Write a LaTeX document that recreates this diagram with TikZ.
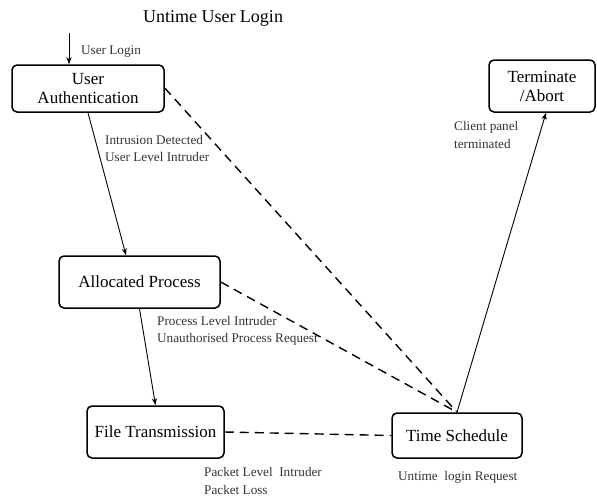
\documentclass[tikz,border=0pt]{standalone}
\usepackage{fontspec}
\setmainfont{Liberation Serif}
\usetikzlibrary{arrows.meta}
\begin{document}
\begin{tikzpicture}[x=1pt,y=-1pt,
  box/.style={draw, line width=1.5pt, rounded corners=5pt, inner sep=0pt, align=center, font=\fontsize{17}{19}\selectfont},
  lbl/.style={anchor=west, inner sep=0pt, align=left, font=\fontsize{13.2}{17.5}\selectfont, text=black!80},
  arr/.style={line width=0.9pt, -{Stealth[length=7pt,width=5pt,inset=2pt]}},
  dsh/.style={line width=1.4pt, dash pattern=on 9pt off 6pt}]
\useasboundingbox (0,0) rectangle (597,498);
\node[font=\fontsize{18}{20}\selectfont] (title) at (213,18) {Untime User Login};
\node[box, minimum width=152pt, minimum height=47pt] (ua) at (88,88.5) {User\\Authentication};
\node[box, minimum width=161pt, minimum height=52pt] (ap) at (139.5,282) {Allocated Process};
\node[box, minimum width=137pt, minimum height=52pt] (ft) at (155.5,432) {File Transmission};
\node[box, minimum width=130pt, minimum height=45pt] (ts) at (457,435.5) {Time Schedule};
\node[box, minimum width=106pt, minimum height=52pt] (ta) at (542,86) {Terminate\\/Abort};
\coordinate (start) at (69,33);
\draw[arr] (start) -- ([xshift=-19pt]ua.north);
\node[lbl] (l1) at (81,52) {User Login};
\draw[arr] (ua.south) -- ([xshift=-13.5pt]ap.north);
\node[lbl] (l2) at (105,148.5) {Intrusion Detected\\User Level Intruder};
\draw[arr] (ap.south) -- (ft.north);
\node[lbl] (l3) at (157,331) {Process Level Intruder\\Unauthorised Process Request};
\draw[arr] (ts.north) -- ([xshift=4pt]ta.south);
\node[lbl] (l4) at (454,135) {Client panel\\terminated};
\draw[dsh] ([yshift=0.5pt]ua.east) -- (ts.north);
\draw[dsh] (ap.east) -- (ts.north);
\draw[dsh] (ft.east) -- (ts.west);
\node[lbl] (l5) at (204,481) {Packet Level\ \ Intruder\\Packet Loss};
\node[lbl] (l6) at (398,477) {Untime\ \ login Request};
\end{tikzpicture}
\end{document}
